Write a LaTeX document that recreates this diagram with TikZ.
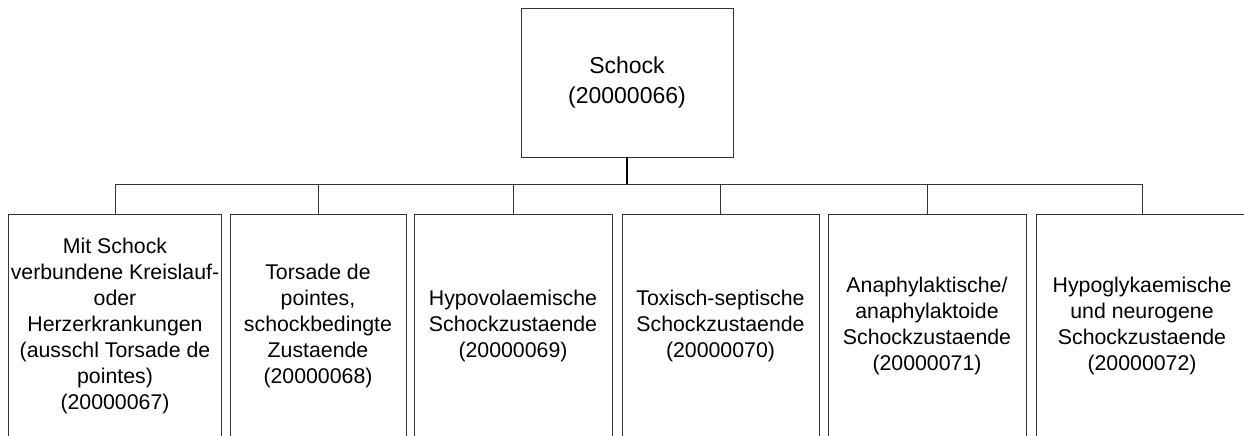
\documentclass[tikz,border=0pt]{standalone}
\usepackage{fontspec}
\setmainfont{Liberation Sans}
\usepackage{tikz}
\usetikzlibrary{positioning}

\begin{document}
\begin{tikzpicture}[x=1pt, y=1pt,
    box/.style={rectangle, draw=black!80, line width=0.9pt, align=center, inner sep=2pt},
    parent/.style={box, minimum width=212pt, minimum height=149pt, font=\fontsize{23}{30}\selectfont},
    child/.style={box, minimum height=224pt, font=\fontsize{21.3}{26}\selectfont},
    link/.style={draw=black!80, line width=0.8pt},
    stem/.style={draw=black, line width=1.6pt}]

            \useasboundingbox (0,0) rectangle (1244,-436);

            \node[parent] (S0) at (627,-82.5) {Schock\\(20000066)};
            \coordinate[below=27pt of S0] (J);

            \node[child, minimum width=212pt] (S1) at (115,-326) {Mit Schock\\verbundene Kreislauf-\\oder\\Herzerkrankungen\\(ausschl Torsade de\\pointes)\\(20000067)};
            \node[child, minimum width=176pt] (S2) at (318,-326) {Torsade de\\pointes,\\schockbedingte\\Zustaende\\(20000068)};
            \node[child, minimum width=198pt] (S3) at (513,-326) {Hypovolaemische\\Schockzustaende\\(20000069)};
            \node[child, minimum width=197pt] (S4) at (720.5,-326) {Toxisch-septische\\Schockzustaende\\(20000070)};
            \node[child, minimum width=198pt] (S5) at (927,-326) {Anaphylaktische/\\anaphylaktoide\\Schockzustaende\\(20000071)};
            \node[child, minimum width=212pt] (S6) at (1142,-326) {Hypoglykaemische\\und neurogene\\Schockzustaende\\(20000072)};

            \foreach \c in {S1,S2,S3,S4,S5,S6}
              \path[link] (J) -| (\c.north);
            \path[stem] (S0.south) -- (J);

        \end{tikzpicture}
\end{document}
